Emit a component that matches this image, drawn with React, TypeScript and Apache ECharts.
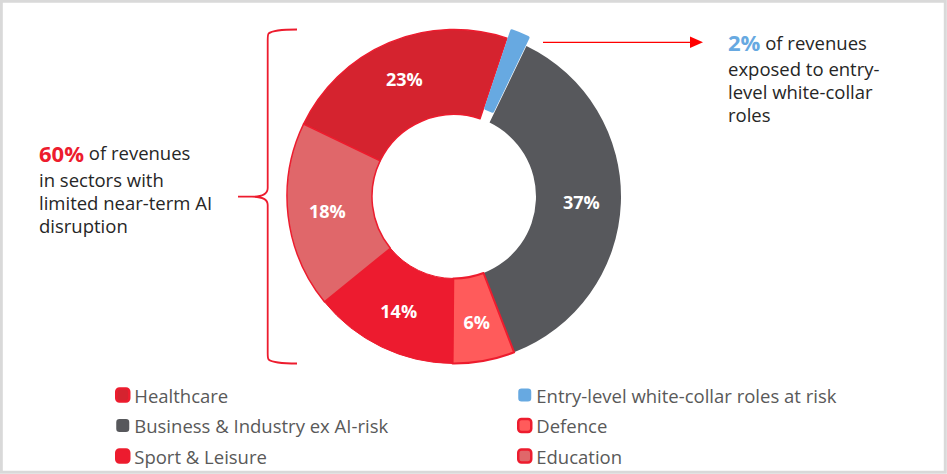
import React, { useEffect, useRef } from "react";
import * as echarts from "echarts";

const categories = [
  "Healthcare",
  "Entry-level white-collar roles at risk",
  "Business & Industry ex AI-risk",
  "Defence",
  "Sport & Leisure",
  "Education",
];
const values = [23, 2, 37, 6, 14, 18];
const fillColors = ["#d5232f", "#67a9e1", "#57585c", "#ff5b5b", "#ed1b2f", "#e0676a"];
const edgeColors = ["#ed1c2e", "#67a9e1", "#57585c", "#ed1c2e", "#ed1c2e", "#ed1c2e"];
const edgeWidths = [1.5, 0, 0, 2, 1, 1.5];
const legendColumn1 = ["Healthcare", "Business & Industry ex AI-risk", "Sport & Leisure"];
const legendColumn2 = ["Entry-level white-collar roles at risk", "Defence", "Education"];
const leftNote = ["60%", "of revenues", "in sectors with", "limited near-term AI", "disruption"];
const rightNote = ["2%", "of revenues", "exposed to entry-", "level white-collar", "roles"];

const bracePath =
  "M 297 29.5 C 285 29.5 272 30.5 268.6 33.5 C 267.8 34.5 267.7 36 267.7 40 L 267.7 188 C 267.7 194 262 196.7 252 196.7 L 238 196.7 M 252 196.7 C 262 196.7 267.7 199.5 267.7 205 L 267.7 353 C 267.7 357 267.8 358.5 268.6 359.5 C 272 362.5 285 363.5 297 363.5";

echarts.graphic.registerShape("brace", echarts.graphic.extendPath(bracePath, {}) as any);

const FONT = "'Open Sans', sans-serif";
const NOTE_SIZE = 18.5;

export default function App() {
  const ref = useRef<HTMLDivElement>(null);
  useEffect(() => {
    document.body.style.margin = "0";
    if (!ref.current) return;
    const chart = echarts.init(ref.current, undefined, { renderer: "svg" });
    const legendItem = (name: string) => {
      const i = categories.indexOf(name);
      return {
        name,
        itemStyle: {
          color: fillColors[i],
          borderColor: edgeColors[i],
          borderWidth: edgeWidths[i] > 0 ? 2.5 : 0,
        },
      };
    };
    const legendBase = {
      orient: "vertical" as const,
      top: 385,
      height: 88,
      padding: 0,
      itemWidth: 13,
      itemHeight: 13,
      itemGap: 10.5,
      icon: "roundRect",
      selectedMode: false,
      textStyle: { fontSize: 18.5, color: "#595959", fontFamily: FONT, lineHeight: 20 },
    };
    const lineText = (x: number, y: number, text: string, rich?: any) => ({
      type: "text",
      x,
      y,
      style: {
        text,
        fontSize: NOTE_SIZE,
        fontFamily: FONT,
        fill: "#262626",
        verticalAlign: "middle",
        align: "left",
        rich,
      },
    });
    chart.setOption({
      animation: false,
      backgroundColor: "#ffffff",
      legend: [
        { ...legendBase, left: 115, data: legendColumn1.map(legendItem) },
        { ...legendBase, left: 517, data: legendColumn2.map(legendItem) },
      ],
      series: [
        {
          type: "pie",
          center: [454, 196.5],
          radius: [82, 167],
          startAngle: 154.3,
          clockwise: true,
          selectedMode: "single",
          selectedOffset: 10,
          avoidLabelOverlap: false,
          emphasis: { disabled: true },
          labelLine: { show: false },
          label: {
            show: true,
            position: "inside",
            formatter: "{c}%",
            color: "#ffffff",
            fontSize: 18,
            fontWeight: "bold",
            fontFamily: FONT,
          },
          data: categories.map((name, i) => ({
            name,
            value: values[i],
            selected: i === 1,
            label: { show: i !== 1 },
            itemStyle: {
              color: fillColors[i],
              borderColor: edgeColors[i],
              borderWidth: edgeWidths[i],
              borderRadius: i === 1 ? 2 : 0,
            },
          })),
        },
      ],
      graphic: [
        {
          type: "rect",
          shape: { x: 1.3, y: 1.3, width: 944, height: 471 },
          style: { fill: "none", stroke: "#d9d9d9", lineWidth: 3 },
          silent: true,
        },
        {
          type: "brace",
          x: 0,
          y: 0,
          style: { fill: "none", stroke: "#ed1c2e", lineWidth: 1.8 },
          silent: true,
        },
        {
          type: "line",
          shape: { x1: 543, y1: 42.3, x2: 692, y2: 42.3 },
          style: { stroke: "#ff0000", lineWidth: 1.3 },
          silent: true,
        },
        {
          type: "polygon",
          shape: { points: [[690, 36.5], [703, 42.3], [690, 48]] },
          style: { fill: "#ff0000" },
          silent: true,
        },
        lineText(39, 152.8, `{a|${leftNote[0]}} {b|${leftNote[1]}}`, {
          a: { fontSize: 22, fontWeight: "bold", fill: "#ed1c2e", fontFamily: FONT },
          b: { fontSize: NOTE_SIZE, fill: "#262626", fontFamily: FONT },
        }),
        lineText(39, 179, leftNote[2]),
        lineText(39, 202, leftNote[3]),
        lineText(39, 225, leftNote[4]),
        lineText(728, 42.3, `{a|${rightNote[0]}} {b|${rightNote[1]}}`, {
          a: { fontSize: 22, fontWeight: "bold", fill: "#67a9e1", fontFamily: FONT },
          b: { fontSize: NOTE_SIZE, fill: "#262626", fontFamily: FONT },
        }),
        lineText(728, 68.5, rightNote[2]),
        lineText(728, 91.5, rightNote[3]),
        lineText(728, 114.5, rightNote[4]),
      ],
    });
    return () => chart.dispose();
  }, []);
  return <div ref={ref} style={{ width: 947, height: 474 }} />;
}
